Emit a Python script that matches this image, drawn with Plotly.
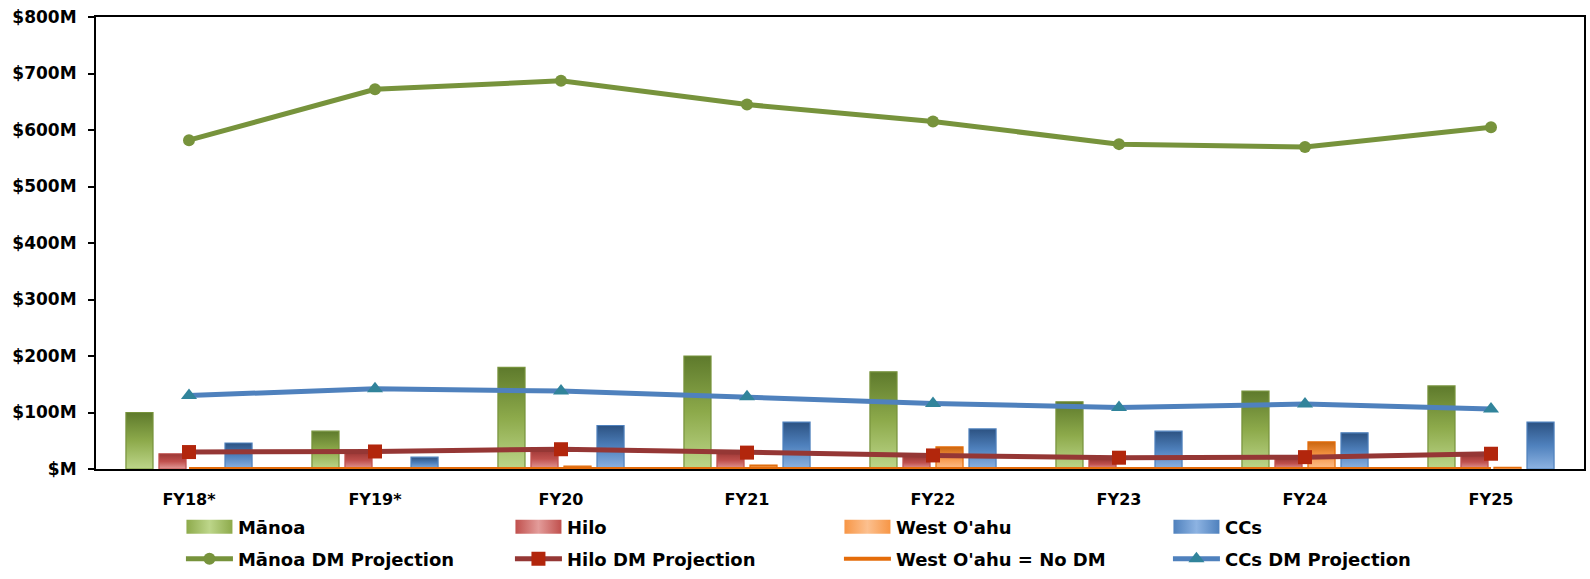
import plotly.graph_objects as go

# Fiscal years on the category axis
years = ["FY18*", "FY19*", "FY20", "FY21", "FY22", "FY23", "FY24", "FY25"]

# Actual amounts by campus ($M)
manoa = [100, 67, 180, 200, 172, 119, 138, 147]
hilo = [27, 30, 36, 30, 22, 17, 19, 25]
west_oahu = [0, 2, 5, 7, 39, 0, 48, 3]
ccs = [46, 21, 77, 83, 71, 67, 64, 83]

# Deferred maintenance projections ($M)
manoa_dm = [582, 672, 687, 645, 615, 575, 570, 605]
hilo_dm = [30, 31, 35, 29, 24, 20, 21, 27]
west_oahu_dm = [0, 0, 0, 0, 0, 0, 0, 0]
ccs_dm = [130, 142, 138, 128, 116, 109, 115, 106]

# Value-axis ticks
y_tick_vals = [0, 100, 200, 300, 400, 500, 600, 700, 800]
y_tick_labels = ["$M", "$100M", "$200M", "$300M", "$400M", "$500M", "$600M", "$700M", "$800M"]

FONT = "DejaVu Sans"

fig = go.Figure()

bar_specs = [
    ("Mānoa", manoa, "#8DAA4B", "#77933C"),
    ("Hilo", hilo, "#C0504D", "#C0504D"),
    ("West O'ahu", west_oahu, "#F79646", "#E46C0A"),
    ("CCs", ccs, "#4F81BD", "#4F81BD"),
]
for name, vals, fill, edge in bar_specs:
    fig.add_trace(go.Bar(
        x=years, y=vals, name=name, legend="legend",
        marker=dict(color=fill, line=dict(color=edge, width=1.2)),
    ))

line_specs = [
    ("Mānoa DM Projection", manoa_dm, "#77933C", "#77933C", "circle", 12),
    ("Hilo DM Projection", hilo_dm, "#953735", "#B2260C", "square", 14),
    ("West O'ahu = No DM", west_oahu_dm, "#E46C0A", "#E46C0A", None, 0),
    ("CCs DM Projection", ccs_dm, "#4F81BD", "#31849B", "triangle-up", 14),
]
for name, vals, lcol, mcol, sym, size in line_specs:
    if sym:
        fig.add_trace(go.Scatter(
            x=years, y=vals, name=name, mode="lines+markers", legend="legend2",
            line=dict(color=lcol, width=5),
            marker=dict(symbol=sym, size=size, color=mcol),
        ))
    else:
        fig.add_trace(go.Scatter(
            x=years, y=vals, name=name, mode="lines", legend="legend2",
            line=dict(color=lcol, width=4), cliponaxis=False,
        ))

legend_common = dict(
    orientation="h", xref="container", yref="container",
    x=0.1138, xanchor="left", yanchor="middle",
    entrywidth=267, entrywidthmode="pixels",
    itemwidth=47, tracegroupgap=0,
    font=dict(family=FONT, size=18, color="black", weight="bold"),
    bgcolor="rgba(0,0,0,0)",
)

fig.update_layout(
    width=1590, height=579,
    margin=dict(l=96, r=6, t=17, b=110, autoexpand=False),
    paper_bgcolor="white", plot_bgcolor="white",
    barmode="group", bargap=0.29, bargroupgap=0.18,
    font=dict(family=FONT, size=16, color="black"),
    showlegend=True,
    legend=dict(legend_common, y=1 - 527 / 579),
    legend2=dict(legend_common, y=1 - 559 / 579),
    xaxis=dict(
        type="category", range=[-0.5, 7.5],
        showline=True, linecolor="black", linewidth=2, mirror=True,
        ticks="", showgrid=False, zeroline=False, layer="below traces",
        tickfont=dict(family=FONT, size=16, color="black", weight="bold"),
        ticklabelstandoff=15,
    ),
    yaxis=dict(
        range=[0, 800], tickvals=y_tick_vals, ticktext=y_tick_labels,
        showline=True, linecolor="black", linewidth=2, mirror=True,
        ticks="outside", ticklen=6, tickwidth=2, tickcolor="black",
        showgrid=False, zeroline=False,
        tickfont=dict(family=FONT, size=17, color="black", weight="bold"),
        ticklabelstandoff=8,
    ),
)

# Shaded bar fills (dark top, light bottom) and wide legend swatches, applied after render
post_js = r"""
var gd = document.getElementById('{plot_id}');
var ns = 'http://www.w3.org/2000/svg';
var svg = gd.querySelector('.main-svg');
var defs = svg.querySelector('defs');
if (!defs) { defs = document.createElementNS(ns, 'defs'); svg.insertBefore(defs, svg.firstChild); }
var shades = [
  ['#5E7A2C', '#8DAA4B', '#BDD68A'],
  ['#9A3634', '#C0504D', '#E39C9A'],
  ['#C9650F', '#F79646', '#FCC08F'],
  ['#2C5282', '#4F81BD', '#8DB3E2']
];
function grad(id, cols, horiz) {
  var g = document.createElementNS(ns, 'linearGradient');
  g.setAttribute('id', id);
  g.setAttribute('x1', '0'); g.setAttribute('y1', '0');
  g.setAttribute('x2', horiz ? '1' : '0'); g.setAttribute('y2', horiz ? '0' : '1');
  var st = horiz ? [[0, cols[1]], [0.5, cols[2]], [1, cols[1]]] : [[0, cols[0]], [0.5, cols[1]], [1, cols[2]]];
  st.forEach(function(s) {
    var e = document.createElementNS(ns, 'stop');
    e.setAttribute('offset', s[0]); e.setAttribute('stop-color', s[1]);
    g.appendChild(e);
  });
  defs.appendChild(g);
}
shades.forEach(function(c, i) { grad('barShade' + i, c, false); grad('legShade' + i, c, true); });
gd.querySelectorAll('.barlayer .trace').forEach(function(tr, i) {
  tr.querySelectorAll('path').forEach(function(p) { p.style.fill = 'url(#barShade' + i + ')'; });
});
var leg = gd.querySelector('.legend');
if (leg) {
  leg.querySelectorAll('.traces').forEach(function(item, i) {
    item.querySelectorAll('.legendpoints path').forEach(function(p) {
      p.setAttribute('d', 'M-23,-7H23V7H-23Z');
      p.style.fill = 'url(#legShade' + i + ')';
      p.style.stroke = 'none';
    });
  });
}
"""

fig.write_html("out.html", post_script=post_js, config={"responsive": False})
